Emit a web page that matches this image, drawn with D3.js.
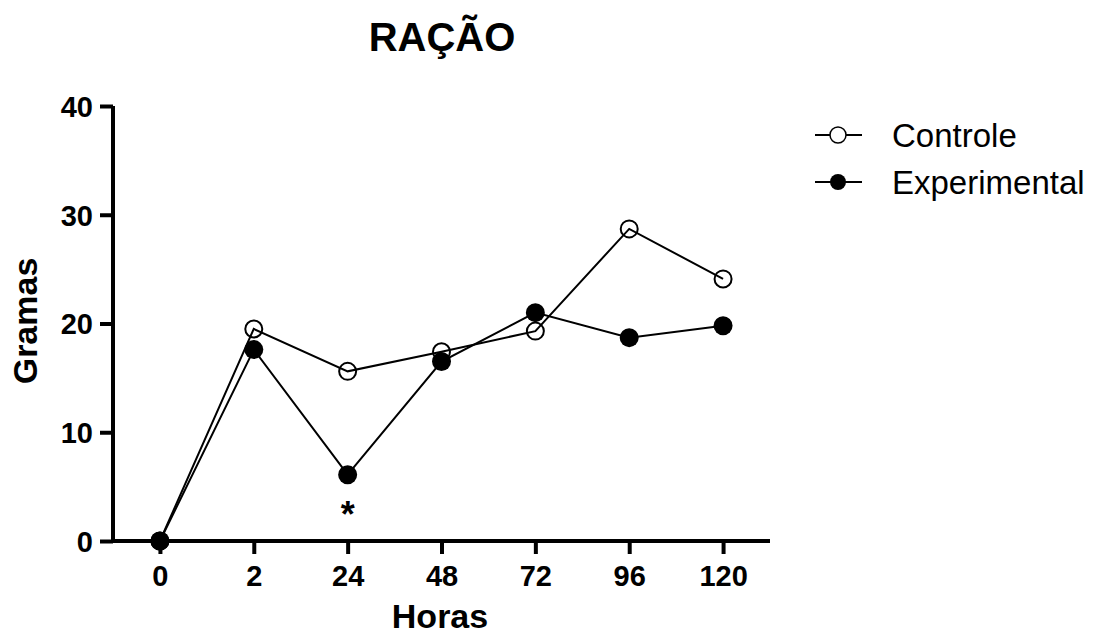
<!DOCTYPE html>
<html>
<head>
<meta charset="utf-8">
<script src="https://cdn.jsdelivr.net/npm/d3@7"></script>
<style>
  body { margin: 0; background: #fff; }
  text { font-family: "Liberation Sans", Arial, sans-serif; }
</style>
</head>
<body>
<div id="chart"></div>
<script>
var horas = ['0', '2', '24', '48', '72', '96', '120'];
var controle = [0, 19.5, 15.6, 17.4, 19.3, 28.7, 24.1];
var experimental = [0, 17.6, 6.1, 16.5, 21.0, 18.7, 19.8];
var yTicks = [0, 10, 20, 30, 40];
var seriesNames = ['Controle', 'Experimental'];

var width = 1097;
var height = 642;

var svg = d3.select('#chart')
  .append('svg')
  .attr('width', width)
  .attr('height', height);

var x = d3.scalePoint()
  .domain(horas)
  .range([113, 770])
  .padding(0.5);

var y = d3.scaleLinear()
  .domain([0, 40])
  .range([541, 106]);

// axes
var xAxis = svg.append('g')
  .attr('transform', 'translate(0,541)')
  .call(d3.axisBottom(x).tickSize(13).tickPadding(10).tickSizeOuter(0));

var yAxis = svg.append('g')
  .attr('transform', 'translate(113,0)')
  .call(d3.axisLeft(y).tickValues(yTicks).tickSize(13).tickPadding(7).tickSizeOuter(0));

[xAxis, yAxis].forEach(function(ax) {
  ax.select('.domain').attr('stroke', '#000').attr('stroke-width', 4);
  ax.selectAll('.tick line').attr('stroke', '#000').attr('stroke-width', 4);
  ax.selectAll('.tick text')
    .attr('fill', '#000')
    .style('font-size', '29px')
    .style('font-weight', 'bold');
});
xAxis.selectAll('.tick text').attr('dy', null).attr('y', 45);
yAxis.selectAll('.tick text').attr('dy', '0.36em');
// join the two axis lines at the corner
xAxis.select('.domain').attr('d', 'M' + (113 - 2) + ',0H770');
yAxis.select('.domain').attr('d', 'M0,' + (541 + 2) + 'V106');

// lines
var line = d3.line()
  .x(function(d, i) { return x(horas[i]); })
  .y(function(d) { return y(d); });

[controle, experimental].forEach(function(s) {
  svg.append('path')
    .datum(s)
    .attr('d', line)
    .attr('fill', 'none')
    .attr('stroke', '#000')
    .attr('stroke-width', 2);
});

svg.selectAll('.pc')
  .data(controle)
  .enter()
  .append('circle')
  .attr('cx', function(d, i) { return x(horas[i]); })
  .attr('cy', function(d) { return y(d); })
  .attr('r', 8.5)
  .attr('fill', 'none')
  .attr('stroke', '#000')
  .attr('stroke-width', 2);

svg.selectAll('.pe')
  .data(experimental)
  .enter()
  .append('circle')
  .attr('cx', function(d, i) { return x(horas[i]); })
  .attr('cy', function(d) { return y(d); })
  .attr('r', 9.5)
  .attr('fill', '#000');

// significance mark
svg.append('text')
  .attr('x', x('24'))
  .attr('y', y(experimental[2]) + 52)
  .attr('text-anchor', 'middle')
  .style('font-size', '36px')
  .style('font-weight', 'bold')
  .text('*');

// titles
svg.append('text')
  .attr('x', 442)
  .attr('y', 51)
  .attr('text-anchor', 'middle')
  .style('font-size', '40px')
  .style('font-weight', 'bold')
  .text('RAÇÃO');

svg.append('text')
  .attr('x', 440)
  .attr('y', 628)
  .attr('text-anchor', 'middle')
  .style('font-size', '34px')
  .style('font-weight', 'bold')
  .text('Horas');

svg.append('text')
  .attr('transform', 'translate(37,321) rotate(-90)')
  .attr('text-anchor', 'middle')
  .style('font-size', '34px')
  .style('font-weight', 'bold')
  .text('Gramas');

// legend
var legend = svg.selectAll('.legend')
  .data(seriesNames)
  .enter()
  .append('g')
  .attr('class', 'legend')
  .attr('transform', function(d, i) {
    return 'translate(815,' + (135 + i * 47) + ')';
  });

legend.append('line')
  .attr('x1', 0)
  .attr('x2', 47)
  .attr('stroke', '#000')
  .attr('stroke-width', 2);

legend.append('circle')
  .attr('cx', 23)
  .attr('r', 8)
  .attr('fill', function(d, i) { return i === 0 ? '#fff' : '#000'; })
  .attr('stroke', '#000')
  .attr('stroke-width', function(d, i) { return i === 0 ? 1.5 : 0; });

legend.append('text')
  .attr('x', 77)
  .attr('y', 12)
  .style('font-size', '33px')
  .text(function(d) { return d; });
</script>
</body>
</html>
